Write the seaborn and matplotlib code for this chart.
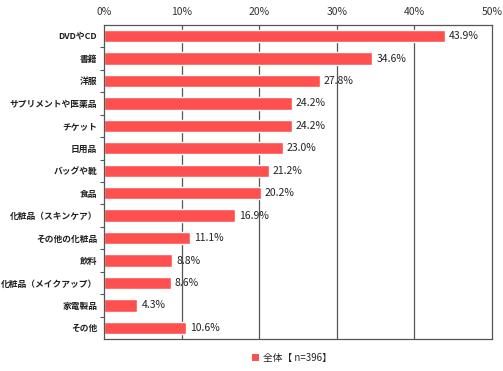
import numpy as np
import pandas as pd
import matplotlib
matplotlib.use('Agg')
import matplotlib.pyplot as plt
from matplotlib.patches import Patch
import seaborn as sns

# data
categories = ['DVDやCD', '書籍', '洋服', 'サプリメントや医薬品', 'チケット', '日用品',
              'バッグや靴', '食品', '化粧品（スキンケア）', 'その他の化粧品', '飲料',
              '化粧品（メイクアップ）', '家電製品', 'その他']
values = [43.9, 34.6, 27.8, 24.2, 24.2, 23.0, 21.2, 20.2, 16.9, 11.1, 8.8, 8.6, 4.3, 10.6]
x_ticks = [0, 10, 20, 30, 40, 50]
legend_label = '全体【 n=396】'

BAR_COLOR = '#FF5050'

sns.set_theme(style='white')
plt.rcParams['font.family'] = ['Noto Sans CJK JP', 'DejaVu Sans']

df = pd.DataFrame({'category': categories, 'value': values})

fig, ax = plt.subplots(figsize=(5.03, 3.71), dpi=100)
fig.subplots_adjust(left=0.207, right=0.978, top=0.933, bottom=0.086)

sns.barplot(data=df, x='value', y='category', orient='h', color=BAR_COLOR,
            width=0.55, saturation=1, ax=ax)

ax.set_xlim(0, 50)
ax.set_ylim(len(categories) - 0.5, -0.5)
ax.set_xticks(x_ticks)
ax.set_xticklabels([f'{t}%' for t in x_ticks], fontsize=7.5, color='#333333')
ax.xaxis.tick_top()
ax.tick_params(axis='x', length=0, pad=6)
ax.set_xlabel('')
ax.set_ylabel('')

ax.tick_params(axis='y', which='major', length=0, pad=5, labelsize=6.3)
for lbl in ax.get_yticklabels():
    lbl.set_fontweight('bold')
    lbl.set_color('#222222')
ax.set_yticks(np.arange(len(categories) - 1) + 0.5, minor=True)
ax.tick_params(axis='y', which='minor', length=3, color='#555555', width=0.8, left=True)

for t in x_ticks[1:-1]:
    ax.axvline(t, color='#555555', linewidth=0.9, zorder=0)
for side in ['top', 'bottom', 'left', 'right']:
    ax.spines[side].set_visible(True)
    ax.spines[side].set_color('#555555')
    ax.spines[side].set_linewidth(0.9)

for i, v in enumerate(values):
    ax.annotate(f'{v:.1f}%', xy=(v, i), xytext=(3, 0), textcoords='offset points',
                va='center', ha='left', fontsize=7.5, color='#222222')

handle = Patch(facecolor=BAR_COLOR, edgecolor='none')
fig.legend([handle], [legend_label], loc='center', bbox_to_anchor=(0.58, 0.036),
           frameon=False, fontsize=7, handlelength=0.7, handleheight=0.7,
           handletextpad=0.4)

plt.savefig('out.png', dpi=100)
